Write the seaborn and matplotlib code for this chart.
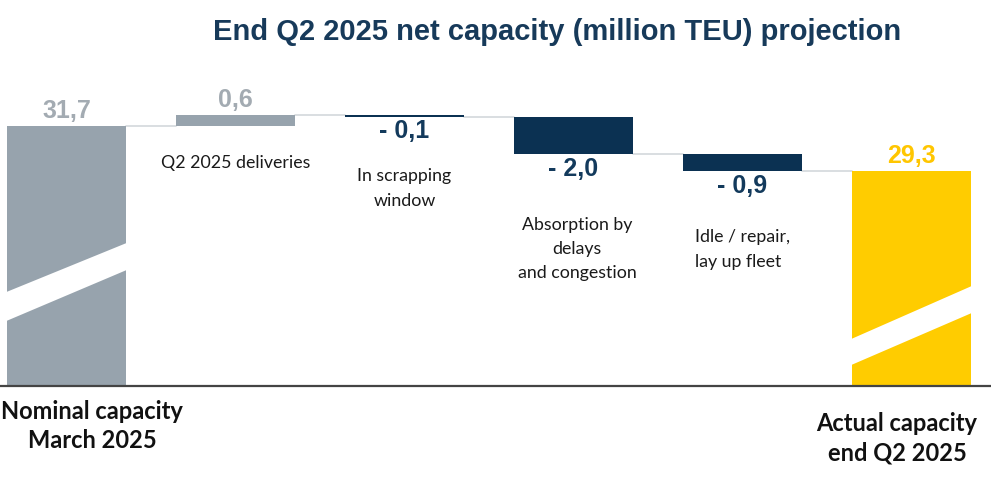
import numpy as np
import pandas as pd
import seaborn as sns
import matplotlib.pyplot as plt
from matplotlib.patches import Polygon

# dados do gráfico (milhões de TEU)
etapas = ["Nominal capacity\nMarch 2025", "Q2 2025 deliveries", "In scrapping\nwindow",
          "Absorption by\ndelays\nand congestion", "Idle / repair,\nlay up fleet",
          "Actual capacity\nend Q2 2025"]
valores = [31.7, 0.6, -0.1, -2.0, -0.9, 29.3]
rotulos = ["31,7", "0,6", "- 0,1", "- 2,0", "- 0,9", "29,3"]
tipos = ["total", "delta", "delta", "delta", "delta", "total"]
titulo = "End Q2 2025 net capacity (million TEU) projection"

CINZA = "#97a3ad"
AZUL = "#0b3152"
AMARELO = "#ffcc00"
cores = [CINZA, CINZA, AZUL, AZUL, AZUL, AMARELO]
cores_rotulo = ["#a3abb2", "#a3abb2", "#133a5c", "#133a5c", "#133a5c", "#ffc600"]

# cálculo do waterfall
bases, alturas, niveis = [], [], []
acumulado = 0.0
for v, t in zip(valores, tipos):
    if t == "total":
        bases.append(0.0)
        alturas.append(v)
        acumulado = v
    else:
        fim = acumulado + v
        bases.append(min(acumulado, fim))
        alturas.append(abs(v))
        acumulado = fim
    niveis.append(acumulado)

df = pd.DataFrame({"etapa": etapas, "altura": alturas, "base": bases})

W, H = 991, 487
fig = plt.figure(figsize=(W / 100, H / 100), dpi=100)
sns.set_style("white")
plt.rcParams["font.family"] = ["Liberation Sans", "DejaVu Sans"]

# eixo quebrado: o fundo do eixo fica em 17,8
y0, escala = 17.8, 18.7          # valor na base, pixels por unidade
topo_px, base_px = 60, 386
ax = fig.add_axes([0, 1 - base_px / H, 1, (base_px - topo_px) / H])
y1 = y0 + (base_px - topo_px) / escala

def py(p):
    # pixel vertical -> valor no eixo
    return y0 + (base_px - p) / escala

larg = 0.70
sns.barplot(data=df, x="etapa", y="altura", bottom=df["base"].values, width=larg,
            color=CINZA, saturation=1, errorbar=None, ax=ax, zorder=2)
for patch, c in zip(ax.patches, cores):
    patch.set_facecolor(c)
    patch.set_edgecolor("none")

# linhas de ligação
for i in range(len(valores) - 1):
    ax.plot([i + larg / 2, i + 1 - larg / 2], [niveis[i], niveis[i]],
            color="#d3d8dc", lw=1.2, zorder=1)

# faixas brancas da quebra de eixo
faixas = {0: ((293, 242), (322, 269)), 5: ((340, 285), (366, 312))}
for i, ((ae, ad), (be, bd)) in faixas.items():
    xe, xd = i - larg / 2 - 0.02, i + larg / 2 + 0.02
    poly = Polygon([(xe, py(ae)), (xd, py(ad)), (xd, py(bd)), (xe, py(be))],
                   closed=True, facecolor="white", edgecolor="none", zorder=3)
    ax.add_patch(poly)

# valores
for i, (v, r) in enumerate(zip(valores, rotulos)):
    if v >= 0:
        yv, off = bases[i] + alturas[i], 10.5
    else:
        yv, off = bases[i], -10.5
    ax.annotate(r, (i, yv), xytext=(0, off), textcoords="offset points",
                ha="center", va="center", fontsize=18, fontweight="bold",
                color=cores_rotulo[i], zorder=4)

# rótulos das categorias intermediárias
fonte_cat = ["Lato", "DejaVu Sans"]
tam_cat = 12.8
esp = 1.65
ax.text(1, py(163), etapas[1], ha="center", va="center", fontsize=tam_cat,
        family=fonte_cat, color="#1a1a1a")
ax.text(2, py(188.5), etapas[2], ha="center", va="center", fontsize=tam_cat,
        family=fonte_cat, color="#1a1a1a", linespacing=esp)
ax.text(3.02, py(249), etapas[3], ha="center", va="center", fontsize=tam_cat,
        family=fonte_cat, color="#1a1a1a", linespacing=esp)
ax.text(4 - larg / 2 + 0.07, py(249.5), etapas[4], ha="left", va="center",
        fontsize=tam_cat, family=fonte_cat, color="#1a1a1a", linespacing=esp)

# rótulos dos totais, abaixo do eixo
fig.text(92 / W, 1 - 426 / H, etapas[0], ha="center", va="center", fontsize=17,
         fontweight="bold", family=fonte_cat, color="#111111", linespacing=1.32)
fig.text(897 / W, 1 - 438.5 / H, etapas[5], ha="center", va="center", fontsize=17,
         fontweight="bold", family=fonte_cat, color="#111111", linespacing=1.32)

fig.text(557 / W, 1 - 32 / H, titulo, ha="center", va="center", fontsize=21,
         fontweight="bold", color="#173a5a")

ax.set_xlim(-66.5 / 169, (W - 66.5) / 169)
ax.set_ylim(y0, y1)
ax.set_xticks([])
ax.set_yticks([])
ax.set_xlabel("")
ax.set_ylabel("")
for lado in ["top", "left", "right"]:
    ax.spines[lado].set_visible(False)
ax.spines["bottom"].set_color("#444444")
ax.spines["bottom"].set_linewidth(1.6)
ax.spines["bottom"].set_zorder(5)

fig.savefig("out.png", dpi=100)
